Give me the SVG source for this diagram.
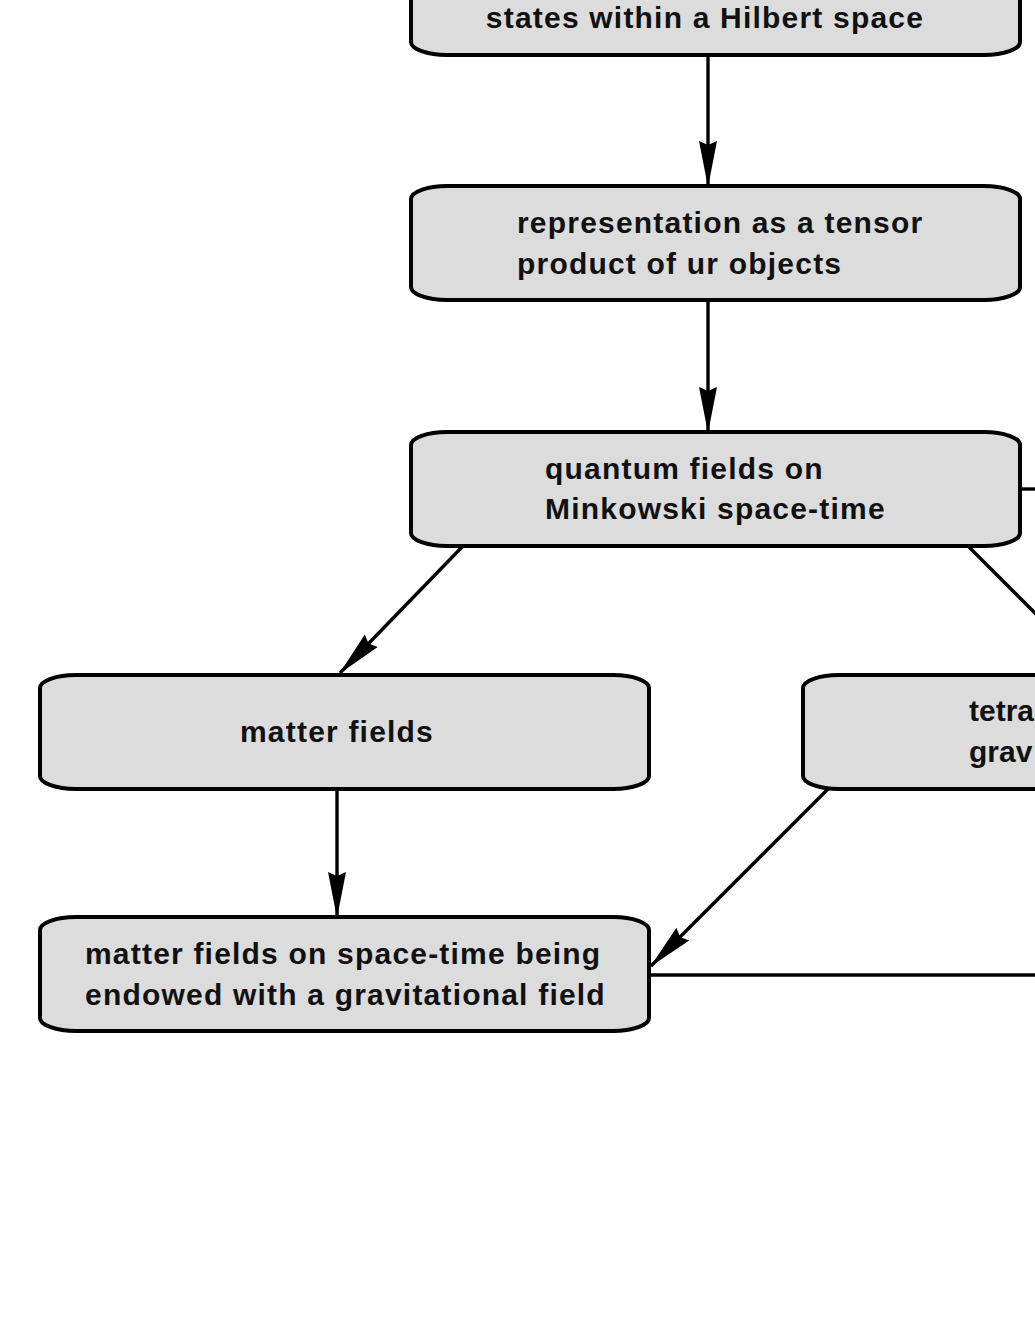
<svg xmlns="http://www.w3.org/2000/svg" width="1035" height="1340" viewBox="0 0 1035 1340">
<style>
.box{fill:#dcdcdc;stroke:#000;stroke-width:4}
.t{font-family:"Liberation Sans",Arial,sans-serif;font-weight:bold;font-size:30px;letter-spacing:1.2px;fill:#111}
.c{fill:none;stroke:#000;stroke-width:3.4}
</style>
<defs>
<marker id="ah" viewBox="0 0 46 20" refX="45" refY="10" markerWidth="46" markerHeight="20" markerUnits="userSpaceOnUse" orient="auto">
<path d="M0,1 L46,10 L0,19 L4,10 Z" fill="#000"/>
</marker>
</defs>
<rect width="1035" height="1340" fill="#fff"/>
<g id="connectors">
<line class="c" x1="708" y1="55" x2="708" y2="186" marker-end="url(#ah)"/>
<line class="c" x1="708" y1="300" x2="708" y2="432" marker-end="url(#ah)"/>
<line class="c" x1="463" y1="546" x2="340" y2="673" marker-end="url(#ah)"/>
<line class="c" x1="968" y1="546" x2="1040" y2="618"/>
<line class="c" x1="1020" y1="489" x2="1040" y2="489"/>
<line class="c" x1="337" y1="789" x2="337" y2="917" marker-end="url(#ah)"/>
<line class="c" x1="828" y1="789" x2="651" y2="966" marker-end="url(#ah)"/>
<line class="c" x1="649" y1="975" x2="1040" y2="975"/>
</g>
<g id="n1">
<path class="box" d="M447,-60 L984,-60 A36,13 0 0 1 1020,-47 L1020,42 A36,13 0 0 1 984,55 L447,55 A36,13 0 0 1 411,42 L411,-47 A36,13 0 0 1 447,-60 Z"/>
<text class="t" x="705" y="28" text-anchor="middle">states within a Hilbert space</text>
</g>
<g id="n2">
<path class="box" d="M447,186 L984,186 A36,13 0 0 1 1020,199 L1020,287 A36,13 0 0 1 984,300 L447,300 A36,13 0 0 1 411,287 L411,199 A36,13 0 0 1 447,186 Z"/>
<text class="t" x="517" y="233">representation as a tensor</text>
<text class="t" x="517" y="274">product of ur objects</text>
</g>
<g id="n3">
<path class="box" d="M447,432 L984,432 A36,13 0 0 1 1020,445 L1020,533 A36,13 0 0 1 984,546 L447,546 A36,13 0 0 1 411,533 L411,445 A36,13 0 0 1 447,432 Z"/>
<text class="t" x="545" y="479">quantum fields on</text>
<text class="t" x="545" y="519">Minkowski space-time</text>
</g>
<g id="n4">
<path class="box" d="M76,675 L613,675 A36,13 0 0 1 649,688 L649,776 A36,13 0 0 1 613,789 L76,789 A36,13 0 0 1 40,776 L40,688 A36,13 0 0 1 76,675 Z"/>
<text class="t" x="337" y="742" text-anchor="middle">matter fields</text>
</g>
<g id="n5">
<path class="box" d="M839,675 L1376,675 A36,13 0 0 1 1412,688 L1412,776 A36,13 0 0 1 1376,789 L839,789 A36,13 0 0 1 803,776 L803,688 A36,13 0 0 1 839,675 Z"/>
<text class="t" x="969" y="721" style="letter-spacing:0">tetra</text>
<text class="t" x="969" y="762" style="letter-spacing:0">grav</text>
</g>
<g id="n6">
<path class="box" d="M76,917 L613,917 A36,13 0 0 1 649,930 L649,1018 A36,13 0 0 1 613,1031 L76,1031 A36,13 0 0 1 40,1018 L40,930 A36,13 0 0 1 76,917 Z"/>
<text class="t" x="85" y="964">matter fields on space-time being</text>
<text class="t" x="85" y="1005">endowed with a gravitational field</text>
</g>
</svg>
